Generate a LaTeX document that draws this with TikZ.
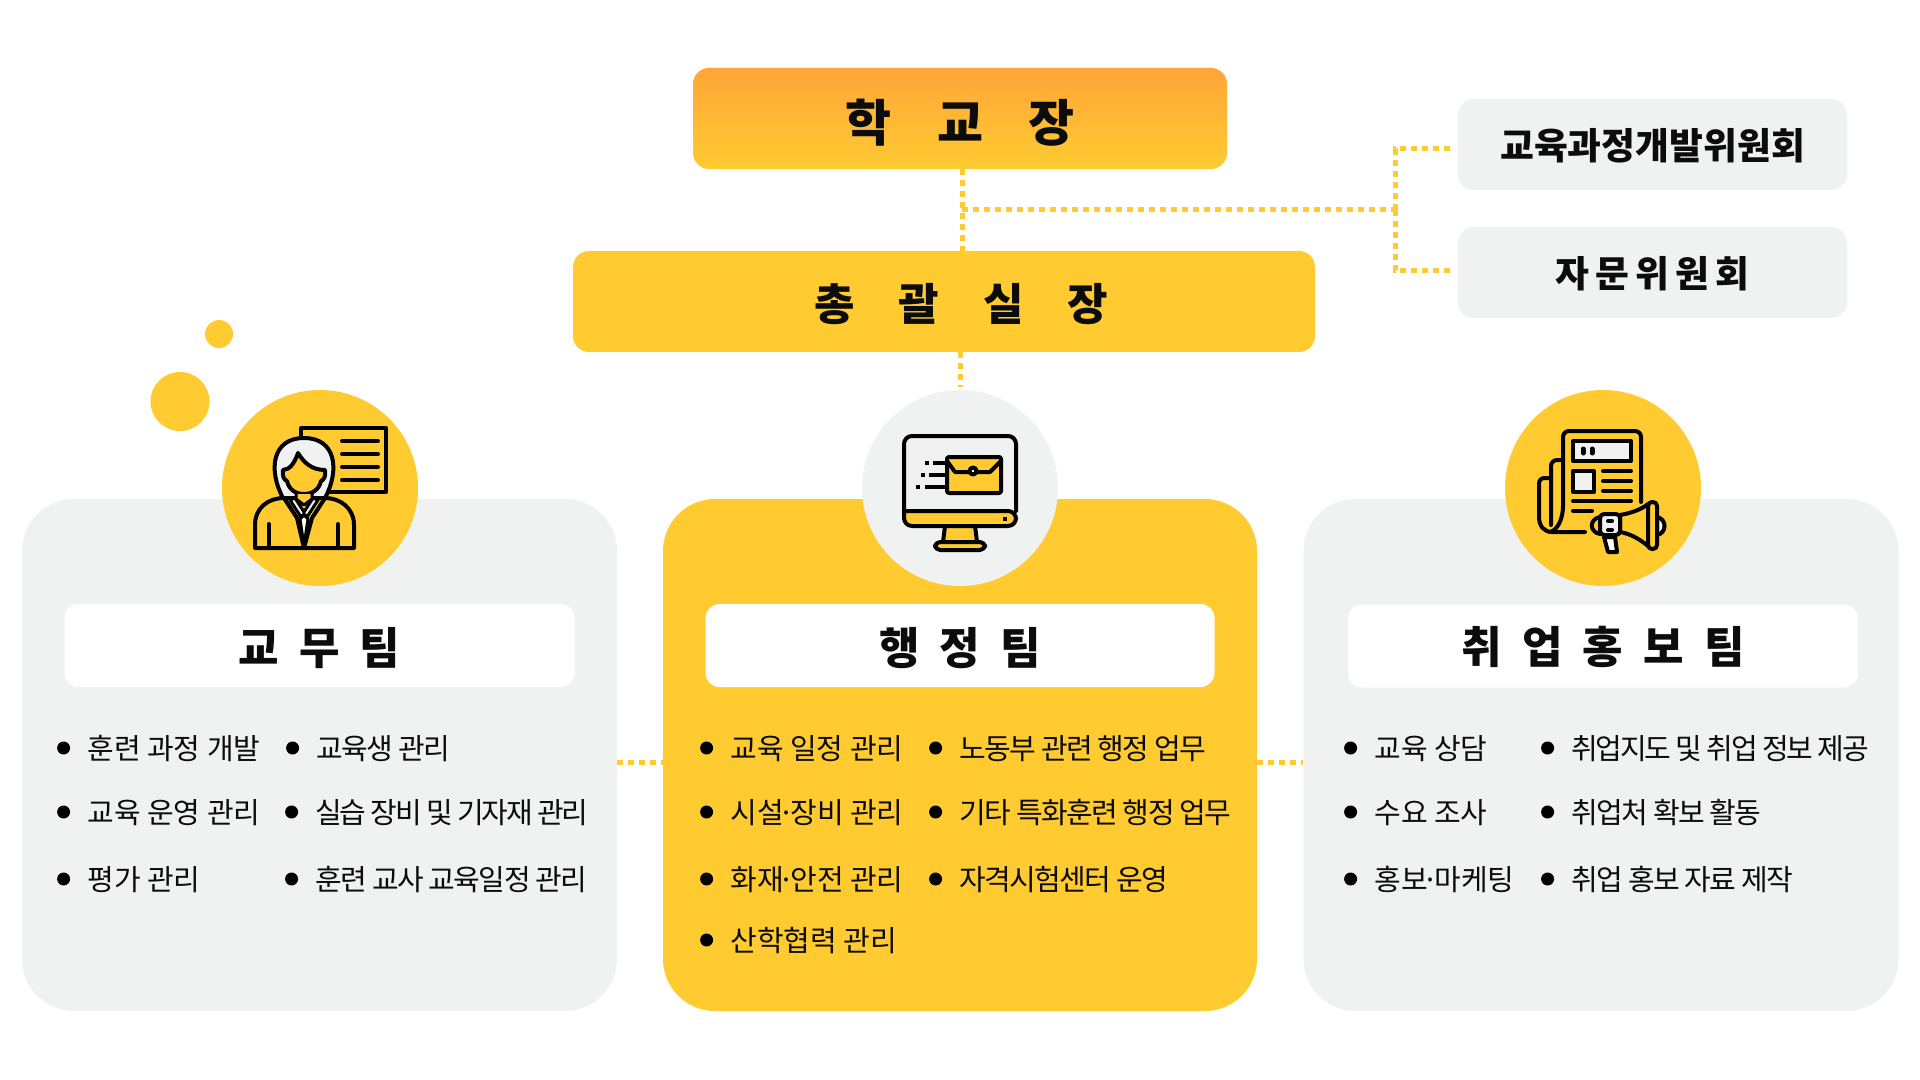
\documentclass[tikz,border=0pt]{standalone}
\usepackage{fontspec}
\setmainfont[BoldFont={Noto Sans CJK KR Black}]{Noto Sans CJK KR}
\newfontfamily\tightfont[LetterSpace=-5.5]{Noto Sans CJK KR}
\newfontfamily\tighterfont[LetterSpace=-7.5]{Noto Sans CJK KR}
\definecolor{gold}{HTML}{FFCB31}
\definecolor{amber}{HTML}{FFA538}
\definecolor{pale}{HTML}{F0F2F1}
\definecolor{ink}{HTML}{0C0C0C}
\tikzset{
  chiefbox/.style={rectangle, rounded corners=8pt, inner sep=0pt, text=ink, text depth=0pt},
  sidebox/.style={rectangle, rounded corners=8pt, inner sep=0pt, fill=pale, minimum width=194.5pt, minimum height=45.5pt, text=ink, text height=15.2pt, text depth=0pt, font=\bfseries\fontsize{18.4}{22}\selectfont},
  panel/.style={rectangle, rounded corners=26pt, minimum width=297.5pt, minimum height=256pt, inner sep=0pt},
  titlebox/.style={rectangle, rounded corners=7pt, fill=white, minimum width=255pt, minimum height=41.5pt, inner sep=0pt, text=ink, text height=19.4pt, text depth=0pt, font=\bfseries\fontsize{22}{26}\selectfont},
  disc/.style={circle, minimum size=98pt, inner sep=0pt},
  spot/.style={circle, fill=gold, inner sep=0pt},
  item/.style={anchor=west, inner sep=0pt, text=ink, text height=13pt, text depth=1.2pt, font=\fontsize{14.5}{17}\selectfont,
    label={[circle, fill=black, inner sep=0pt, minimum size=6.5pt, label distance=8.25pt]left:}},
  tightitem/.style={item, font=\tightfont\fontsize{14.5}{17}\selectfont},
  tighteritem/.style={item, font=\tighterfont\fontsize{14.5}{17}\selectfont},
  dotline/.style={draw=gold, line width=2.5pt, dash pattern=on 3pt off 2.5pt},
  icon/.style={draw=black, line width=2pt, line join=round, line cap=round},
}
\begin{document}
\begin{tikzpicture}[x=0.5pt, y=-0.5pt]
  \useasboundingbox (0,0) rectangle (1920,1080);
  % top boxes
  \node[chiefbox, top color=amber, bottom color=gold, minimum width=267pt, minimum height=50.5pt, text height=23pt, font=\bfseries\fontsize{25}{29}\selectfont] (head) at (960,118.5) {학~~~~교~~~~장};
  \node[chiefbox, fill=gold, minimum width=371pt, minimum height=50.5pt, text width=371pt, align=center, text height=19.4pt, font=\bfseries\fontsize{22}{26}\selectfont] (chief) at (944,301.5) {\hspace*{17.2pt}총~~~괄~~~실~~~장};
  \node[sidebox] (curriculum) at (1652.5,144.5) {교육과정개발위원회};
  \node[sidebox] (advisory) at (1652.5,272.5) {자\,문\,위\,원\,회};
  % team panels
  \node[panel, fill=pale] (eduteam) at (319.5,755) {};
  \node[panel, fill=gold, minimum width=297pt] (adminteam) at (960,755) {};
  \node[panel, fill=pale] (jobteam) at (1601,755) {};
  \node[titlebox] (edutitle) at (319.5,645.5) {교~~무~~팀};
  \node[titlebox, minimum width=254.5pt] (admintitle) at (960,645.5) {행~~정~~팀};
  \node[titlebox, text height=17.4pt] (jobtitle) at (1603,646) {취~~업~~홍~~보~~팀};
  \node[disc, fill=gold] (eduicon) at (320,488) {};
  \node[disc, fill=pale] (adminicon) at (960,488) {};
  \node[disc, fill=gold] (jobicon) at (1603,488) {};
  \node[spot, minimum size=29.5pt] (bigspot) at (180,401.5) {};
  \node[spot, minimum size=14pt] (smallspot) at (219,334) {};
  % connectors
  \coordinate (branch) at (962,210);
  \coordinate (fork) at (1395,210);
  \draw[dotline] ([xshift=1pt]head.south) -- ([xshift=1pt]head.south |- chief.north);
  \draw[dotline] (chief.south -| adminicon.north) -- ([yshift=1.5pt]adminicon.north);
  \draw[dotline] (branch) -- (fork);
  \draw[dotline] ([xshift=-3.75pt,yshift=-2.25pt]curriculum.west) -| (fork);
  \draw[dotline] ([xshift=-3.75pt,yshift=0.75pt]advisory.west) -| (fork);
  \draw[dotline] ([yshift=-3.5pt]eduteam.east) -- ([yshift=-3.5pt]adminteam.west);
  \draw[dotline] ([yshift=-3.5pt]adminteam.east) -- ([yshift=-3.5pt]jobteam.west);
  % left column items
  \node[item] (e1) at (87,748) {훈련 과정 개발};
  \node[item] (e2) at (87,812) {교육 운영 관리};
  \node[item] (e3) at (87,879) {평가 관리};
  \node[tightitem] (e4) at (316,748) {교육생 관리};
  \node[tighteritem] (e5) at (315,812) {실습 장비 및 기자재 관리};
  \node[tightitem] (e6) at (315,879) {훈련 교사 교육일정 관리};
  % middle column items
  \node[item] (a1) at (730,748) {교육 일정 관리};
  \node[item] (a2) at (730,812) {시설\kern-2.4pt·\kern-2.4pt장비 관리};
  \node[item] (a3) at (730,879) {화재\kern-2.4pt·\kern-2.4pt안전 관리};
  \node[item] (a4) at (730,940) {산학협력 관리};
  \node[tightitem] (a5) at (959,748) {노동부 관련 행정 업무};
  \node[tightitem] (a6) at (959,812) {기타 특화훈련 행정 업무};
  \node[tightitem] (a7) at (959,879) {자격시험센터 운영};
  % right column items
  \node[item] (j1) at (1374,748) {교육 상담};
  \node[item] (j2) at (1374,812) {수요 조사};
  \node[item] (j3) at (1374,879) {홍보\kern-2.4pt·\kern-2.4pt마케팅};
  \node[tighteritem] (j4) at (1571,748) {취업지도 및 취업 정보 제공};
  \node[tightitem] (j5) at (1571,812) {취업처 확보 활동};
  \node[tightitem] (j6) at (1571,879) {취업 홍보 자료 제작};
  % teacher icon
  \draw[icon] (301,440) -- (301,428) -- (386,428) -- (386,492) -- (330,492);
  \foreach \y in {441,454,467,480} \draw[icon] (342,\y) -- (378,\y);
  \draw[icon, fill=pale] (283,498) .. controls (268,470) and (272,438) .. (304,438) .. controls (336,438) and (340,470) .. (325,498) -- cycle;
  \draw[icon, fill=gold] (298,453) .. controls (295,462) and (290,470) .. (283,470) .. controls (282,476) and (284,480) .. (287,481) .. controls (289,490) and (296,494) .. (304,494) .. controls (312,494) and (319,490) .. (321,481) .. controls (324,480) and (326,476) .. (325,470) .. controls (312,470) and (304,463) .. (298,453) -- cycle;
  \draw[icon, fill=gold] (255,548) -- (255,525) .. controls (255,508) and (268,498) .. (284,498) -- (297,518) -- (304,548) -- (312,518) -- (325,498) .. controls (340,498) and (354,508) .. (354,525) -- (354,548) -- cycle;
  \draw[icon, fill=pale, line width=1.5pt] (295,498) -- (304,512) -- (313,498) -- (318,500) -- (307,517) -- (304,514) -- (301,517) -- (290,500) -- cycle;
  \draw[icon, fill=white, line width=1.5pt] (300,519) -- (304,515) -- (308,519) -- (304,546) -- cycle;
  \draw[icon, fill=gold, line width=1.5pt] (296,494) -- (296,499) -- (304,505) -- (312,499) -- (312,494);
  \draw[icon] (269,524) -- (269,548);
  \draw[icon] (338,524) -- (338,548);
  % monitor icon
  \draw[icon, rounded corners=4pt] (904,511) -- (904,436) -- (1016,436) -- (1016,511);
  \draw[icon, fill=gold] (904,511) [rounded corners=4pt] -- (904,526) -- (1016,526) -- (1016,511) [sharp corners] -- cycle;
  \fill[black] (1003,517) rectangle (1007,521);
  \draw[icon, fill=gold] (945,526) -- (943,542) -- (977,542) -- (975,526) -- cycle;
  \draw[icon, fill=gold, rounded corners=2.5pt] (935,542) rectangle (985,550);
  \draw[icon, fill=gold, rounded corners=1pt] (947,457) rectangle (1001,493);
  \draw[icon] (947,461) -- (955,472) -- (990,472) -- (1001,461);
  \draw[icon, fill=white] (973,471) circle (3.5);
  \draw[icon, line cap=butt] (933,463) -- (946,463);
  \draw[icon, line cap=butt] (929,475) -- (946,475);
  \draw[icon, line cap=butt] (925,487) -- (946,487);
  \fill[black] (925,461) rectangle (929,465);
  \fill[black] (921,473) rectangle (925,477);
  \fill[black] (916,485) rectangle (920,489);
  % newspaper icon
  \draw[icon, rounded corners=3pt] (1641,502) -- (1641,431) -- (1563,431) -- (1563,500) .. controls (1563,518) and (1558,530) .. (1550,532);
  \draw[icon, rounded corners=3pt] (1563,460) -- (1551,460) -- (1551,525);
  \draw[icon] (1551,478) -- (1545,478) .. controls (1541,478) and (1539,480) .. (1539,484) -- (1539,517) .. controls (1539,526) and (1544,532) .. (1552,532) -- (1585,532);
  \draw[icon, fill=pale] (1573,441) rectangle (1631,461);
  \draw[icon, line width=2.5pt] (1583,449) -- (1583,453);
  \draw[icon, line width=2.5pt] (1592,449) -- (1592,453);
  \draw[icon, fill=pale] (1573,471) rectangle (1594,492);
  \foreach \y in {471,481,491} \draw[icon] (1603,\y) -- (1631,\y);
  \draw[icon] (1573,501) -- (1631,501);
  \draw[icon] (1573,511) -- (1592,511);
  % megaphone
  \draw[icon, fill=pale] (1657,517) .. controls (1667,519) and (1667,533) .. (1657,535) -- cycle;
  \draw[icon, fill=gold] (1620,515) .. controls (1632,513) and (1642,509) .. (1648,504) -- (1648,546) .. controls (1642,541) and (1632,534) .. (1620,532) -- cycle;
  \draw[icon, fill=gold, rounded corners=2pt] (1648,502) rectangle (1657,549);
  \draw[icon, fill=gold] (1600,517) .. controls (1589,519) and (1589,532) .. (1600,534) -- cycle;
  \draw[icon, fill=white] (1604,537) -- (1608,552) -- (1617,552) -- (1615,537) -- cycle;
  \draw[icon, fill=pale, rounded corners=2pt] (1600,514) rectangle (1620,535);
  \draw[icon] (1608,521) -- (1612,521);
  \draw[icon] (1608,530) -- (1612,530);
\end{tikzpicture}
\end{document}
